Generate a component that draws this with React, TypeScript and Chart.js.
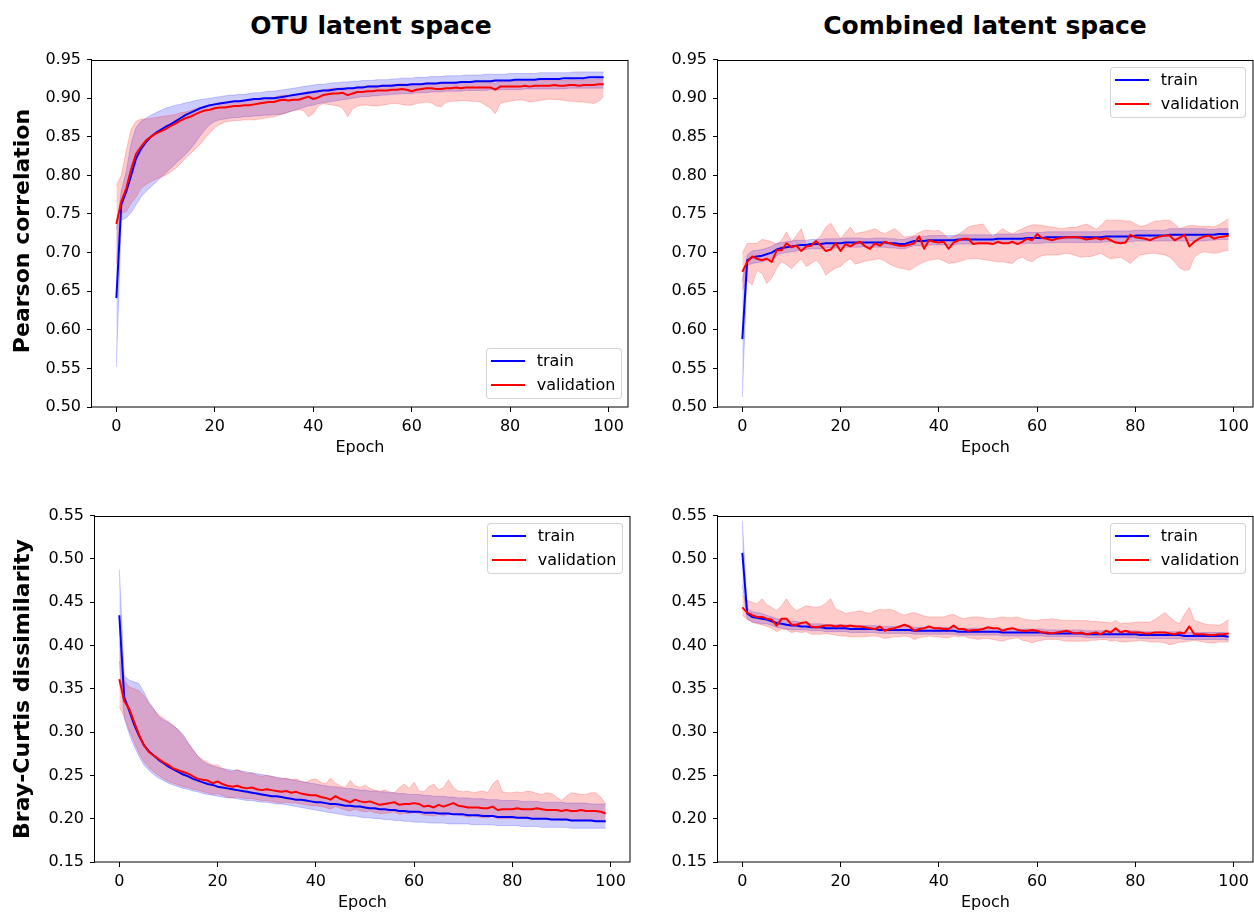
import React, { useEffect, useRef } from 'react';
import { Chart, registerables } from 'chart.js';

Chart.register(...registerables);

const FONT = "'DejaVu Sans', sans-serif";
Chart.defaults.font.family = FONT;
Chart.defaults.color = '#000';

// ---------------- data ----------------
const EPOCHS = Array.from({ length: 100 }, (_, i) => i);
const X_TICKS = [0, 20, 40, 60, 80, 100];
const PEARSON_TICKS = [0.5, 0.55, 0.6, 0.65, 0.7, 0.75, 0.8, 0.85, 0.9, 0.95];
const BRAY_TICKS = [0.15, 0.2, 0.25, 0.3, 0.35, 0.4, 0.45, 0.5, 0.55];

// OTU latent space - Pearson correlation
const A_TRAIN = [
  0.641, 0.762, 0.779, 0.800, 0.822, 0.834, 0.843, 0.850, 0.855, 0.859,
  0.863, 0.866, 0.870, 0.874, 0.878, 0.881, 0.884, 0.887, 0.889, 0.891,
  0.892, 0.893, 0.894, 0.895, 0.896, 0.896, 0.897, 0.898, 0.899, 0.899,
  0.900, 0.900, 0.900, 0.901, 0.902, 0.903, 0.904, 0.905, 0.906, 0.907,
  0.908, 0.909, 0.910, 0.910, 0.911, 0.912, 0.912, 0.913, 0.913, 0.914,
  0.914, 0.915, 0.915, 0.915, 0.916, 0.916, 0.916, 0.917, 0.917, 0.917,
  0.918, 0.918, 0.918, 0.919, 0.919, 0.919, 0.920, 0.920, 0.920, 0.920,
  0.921, 0.921, 0.921, 0.922, 0.922, 0.922, 0.922, 0.923, 0.923, 0.923,
  0.923, 0.924, 0.924, 0.924, 0.924, 0.924, 0.925, 0.925, 0.925, 0.925,
  0.925, 0.926, 0.926, 0.926, 0.926, 0.926, 0.927, 0.927, 0.927, 0.927,
];
const A_TRAIN_HI = [
  0.730, 0.780, 0.805, 0.842, 0.862, 0.870, 0.874, 0.878, 0.881, 0.884,
  0.887, 0.889, 0.891, 0.892, 0.894, 0.895, 0.897, 0.898, 0.899, 0.900,
  0.901, 0.902, 0.903, 0.904, 0.904, 0.905, 0.905, 0.906, 0.907, 0.907,
  0.908, 0.909, 0.909, 0.910, 0.911, 0.912, 0.913, 0.914, 0.915, 0.916,
  0.917, 0.918, 0.918, 0.919, 0.920, 0.920, 0.921, 0.921, 0.922, 0.922,
  0.923, 0.923, 0.923, 0.924, 0.924, 0.924, 0.925, 0.925, 0.926, 0.926,
  0.926, 0.927, 0.927, 0.927, 0.928, 0.928, 0.928, 0.929, 0.929, 0.929,
  0.929, 0.930, 0.930, 0.930, 0.930, 0.931, 0.931, 0.931, 0.931, 0.931,
  0.932, 0.932, 0.932, 0.932, 0.932, 0.932, 0.933, 0.933, 0.933, 0.933,
  0.933, 0.933, 0.933, 0.934, 0.934, 0.934, 0.934, 0.934, 0.934, 0.934,
];
const A_TRAIN_LO = [
  0.552, 0.742, 0.745, 0.752, 0.762, 0.772, 0.779, 0.785, 0.791, 0.797,
  0.803, 0.809, 0.815, 0.821, 0.827, 0.834, 0.842, 0.851, 0.859, 0.866,
  0.870, 0.872, 0.873, 0.874, 0.875, 0.875, 0.876, 0.876, 0.877, 0.877,
  0.878, 0.878, 0.879, 0.879, 0.880, 0.882, 0.884, 0.886, 0.888, 0.890,
  0.891, 0.893, 0.894, 0.895, 0.896, 0.897, 0.898, 0.899, 0.900, 0.901,
  0.902, 0.902, 0.903, 0.903, 0.904, 0.904, 0.905, 0.905, 0.906, 0.906,
  0.906, 0.907, 0.907, 0.907, 0.908, 0.908, 0.908, 0.909, 0.909, 0.909,
  0.909, 0.910, 0.910, 0.910, 0.910, 0.910, 0.911, 0.911, 0.911, 0.911,
  0.911, 0.911, 0.911, 0.912, 0.912, 0.912, 0.912, 0.912, 0.912, 0.912,
  0.912, 0.912, 0.913, 0.913, 0.913, 0.913, 0.913, 0.913, 0.913, 0.913,
];
const A_VAL = [
  0.737, 0.766, 0.783, 0.808, 0.828, 0.837, 0.845, 0.850, 0.854, 0.857,
  0.860, 0.864, 0.867, 0.871, 0.874, 0.876, 0.879, 0.882, 0.884, 0.885,
  0.887, 0.888, 0.888, 0.889, 0.890, 0.890, 0.891, 0.891, 0.892, 0.893,
  0.894, 0.895, 0.895, 0.897, 0.898, 0.897, 0.898, 0.898, 0.900, 0.902,
  0.899, 0.901, 0.904, 0.905, 0.906, 0.906, 0.907, 0.904, 0.906, 0.908,
  0.908, 0.909, 0.909, 0.910, 0.910, 0.910, 0.911, 0.911, 0.912, 0.911,
  0.909, 0.911, 0.912, 0.913, 0.913, 0.912, 0.912, 0.913, 0.913, 0.914,
  0.913, 0.914, 0.914, 0.914, 0.914, 0.914, 0.914, 0.911, 0.915, 0.915,
  0.915, 0.915, 0.915, 0.916, 0.915, 0.916, 0.916, 0.916, 0.916, 0.917,
  0.916, 0.916, 0.917, 0.917, 0.916, 0.917, 0.917, 0.917, 0.918, 0.918,
];
const A_VAL_HI = [
  0.787, 0.800, 0.832, 0.860, 0.870, 0.873, 0.873, 0.874, 0.875, 0.876,
  0.877, 0.878, 0.879, 0.881, 0.882, 0.884, 0.886, 0.888, 0.889, 0.890,
  0.893, 0.894, 0.894, 0.895, 0.896, 0.896, 0.897, 0.897, 0.898, 0.899,
  0.900, 0.901, 0.901, 0.903, 0.904, 0.904, 0.905, 0.905, 0.907, 0.909,
  0.907, 0.908, 0.911, 0.912, 0.913, 0.913, 0.914, 0.912, 0.913, 0.915,
  0.915, 0.916, 0.916, 0.917, 0.917, 0.917, 0.918, 0.918, 0.919, 0.918,
  0.917, 0.918, 0.919, 0.920, 0.920, 0.919, 0.919, 0.920, 0.920, 0.921,
  0.920, 0.921, 0.921, 0.921, 0.921, 0.921, 0.921, 0.919, 0.922, 0.922,
  0.922, 0.922, 0.922, 0.923, 0.922, 0.923, 0.923, 0.923, 0.923, 0.924,
  0.923, 0.923, 0.924, 0.924, 0.923, 0.924, 0.924, 0.924, 0.925, 0.925,
];
const A_VAL_LO = [
  0.686, 0.751, 0.753, 0.764, 0.772, 0.783, 0.788, 0.792, 0.795, 0.798,
  0.800, 0.804, 0.809, 0.815, 0.822, 0.828, 0.834, 0.840, 0.848, 0.855,
  0.862, 0.866, 0.869, 0.870, 0.871, 0.871, 0.872, 0.872, 0.872, 0.873,
  0.874, 0.875, 0.876, 0.878, 0.880, 0.882, 0.884, 0.885, 0.884, 0.876,
  0.880, 0.890, 0.893, 0.892, 0.891, 0.890, 0.887, 0.876, 0.886, 0.890,
  0.891, 0.891, 0.890, 0.890, 0.891, 0.892, 0.893, 0.893, 0.892, 0.891,
  0.891, 0.893, 0.894, 0.895, 0.894, 0.890, 0.889, 0.895, 0.896, 0.896,
  0.897, 0.897, 0.896, 0.896, 0.895, 0.891, 0.887, 0.880, 0.893, 0.895,
  0.896, 0.897, 0.898, 0.897, 0.895, 0.896, 0.897, 0.898, 0.899, 0.898,
  0.898, 0.897, 0.896, 0.896, 0.895, 0.895, 0.894, 0.893, 0.896, 0.902,
];

// Combined latent space - Pearson correlation
const B_TRAIN = [
  0.588, 0.690, 0.694, 0.695, 0.696, 0.698, 0.700, 0.704, 0.706, 0.707,
  0.708, 0.709, 0.710, 0.710, 0.711, 0.711, 0.711, 0.712, 0.712, 0.712,
  0.712, 0.713, 0.713, 0.713, 0.713, 0.713, 0.713, 0.713, 0.713, 0.713,
  0.712, 0.712, 0.711, 0.711, 0.713, 0.715, 0.715, 0.715, 0.716, 0.716,
  0.716, 0.716, 0.716, 0.716, 0.717, 0.717, 0.717, 0.717, 0.717, 0.717,
  0.717, 0.717, 0.718, 0.718, 0.718, 0.718, 0.718, 0.718, 0.719, 0.719,
  0.719, 0.719, 0.720, 0.720, 0.720, 0.720, 0.720, 0.720, 0.720, 0.720,
  0.720, 0.720, 0.720, 0.720, 0.721, 0.721, 0.721, 0.721, 0.721, 0.721,
  0.722, 0.722, 0.722, 0.722, 0.722, 0.722, 0.722, 0.723, 0.723, 0.723,
  0.723, 0.723, 0.723, 0.723, 0.723, 0.723, 0.723, 0.724, 0.724, 0.724,
];
const B_TRAIN_SD = [
  0.075, 0.007, 0.008, 0.008, 0.008, 0.008, 0.008, 0.008, 0.007, 0.007,
  0.007, 0.007, 0.006, 0.006, 0.006, 0.006, 0.006, 0.006, 0.006, 0.006,
  0.006, 0.006, 0.006, 0.006, 0.006, 0.005, 0.005, 0.006, 0.006, 0.006,
  0.006, 0.006, 0.006, 0.006, 0.006, 0.006, 0.006, 0.006, 0.006, 0.006,
  0.006, 0.006, 0.006, 0.006, 0.006, 0.006, 0.006, 0.006, 0.006, 0.006,
  0.006, 0.006, 0.006, 0.006, 0.006, 0.006, 0.006, 0.007, 0.007, 0.007,
  0.007, 0.007, 0.007, 0.007, 0.007, 0.007, 0.007, 0.007, 0.007, 0.007,
  0.007, 0.007, 0.007, 0.007, 0.007, 0.007, 0.007, 0.007, 0.007, 0.007,
  0.007, 0.007, 0.007, 0.007, 0.007, 0.007, 0.007, 0.008, 0.008, 0.008,
  0.008, 0.008, 0.008, 0.008, 0.008, 0.007, 0.007, 0.007, 0.007, 0.007,
];
const B_VAL = [
  0.675, 0.688, 0.695, 0.692, 0.690, 0.692, 0.688, 0.703, 0.703, 0.712,
  0.707, 0.709, 0.702, 0.708, 0.709, 0.715, 0.709, 0.702, 0.704, 0.712,
  0.702, 0.711, 0.708, 0.712, 0.714, 0.708, 0.705, 0.712, 0.709, 0.714,
  0.712, 0.710, 0.709, 0.709, 0.710, 0.712, 0.721, 0.705, 0.716, 0.714,
  0.713, 0.714, 0.705, 0.713, 0.716, 0.718, 0.718, 0.711, 0.712, 0.712,
  0.712, 0.711, 0.714, 0.712, 0.712, 0.714, 0.711, 0.714, 0.718, 0.716,
  0.724, 0.719, 0.718, 0.716, 0.718, 0.719, 0.720, 0.720, 0.720, 0.719,
  0.717, 0.718, 0.719, 0.717, 0.719, 0.716, 0.713, 0.712, 0.713, 0.723,
  0.720, 0.719, 0.718, 0.716, 0.719, 0.721, 0.722, 0.722, 0.716, 0.719,
  0.723, 0.708, 0.714, 0.718, 0.721, 0.722, 0.718, 0.720, 0.721, 0.722,
];
const B_VAL_HI = [
  0.699, 0.712, 0.712, 0.712, 0.717, 0.716, 0.714, 0.711, 0.716, 0.727,
  0.714, 0.722, 0.731, 0.710, 0.712, 0.716, 0.722, 0.733, 0.738, 0.728,
  0.718, 0.726, 0.733, 0.724, 0.726, 0.727, 0.729, 0.731, 0.727, 0.724,
  0.728, 0.731, 0.726, 0.720, 0.721, 0.722, 0.726, 0.729, 0.729, 0.728,
  0.729, 0.724, 0.718, 0.721, 0.724, 0.728, 0.733, 0.735, 0.736, 0.737,
  0.728, 0.720, 0.726, 0.731, 0.727, 0.724, 0.728, 0.731, 0.734, 0.736,
  0.736, 0.735, 0.734, 0.733, 0.732, 0.731, 0.732, 0.733, 0.733, 0.735,
  0.737, 0.734, 0.730, 0.735, 0.742, 0.742, 0.742, 0.742, 0.741, 0.741,
  0.737, 0.734, 0.735, 0.738, 0.741, 0.741, 0.742, 0.742, 0.737, 0.731,
  0.733, 0.735, 0.735, 0.734, 0.734, 0.734, 0.733, 0.736, 0.740, 0.744,
];
const B_VAL_LO = [
  0.652, 0.664, 0.658, 0.677, 0.673, 0.660, 0.667, 0.680, 0.688, 0.684,
  0.679, 0.686, 0.692, 0.682, 0.686, 0.690, 0.684, 0.671, 0.676, 0.680,
  0.682, 0.688, 0.692, 0.685, 0.687, 0.689, 0.690, 0.691, 0.692, 0.689,
  0.685, 0.682, 0.680, 0.679, 0.677, 0.681, 0.685, 0.688, 0.690, 0.691,
  0.692, 0.689, 0.686, 0.687, 0.688, 0.690, 0.692, 0.692, 0.692, 0.691,
  0.690, 0.689, 0.688, 0.688, 0.687, 0.686, 0.692, 0.694, 0.690, 0.688,
  0.693, 0.696, 0.697, 0.697, 0.697, 0.698, 0.699, 0.698, 0.696, 0.694,
  0.695, 0.695, 0.697, 0.699, 0.695, 0.692, 0.693, 0.694, 0.690, 0.686,
  0.692, 0.697, 0.698, 0.699, 0.699, 0.698, 0.697, 0.694, 0.688, 0.680,
  0.677, 0.678, 0.694, 0.699, 0.701, 0.700, 0.699, 0.700, 0.702, 0.703,
];

// OTU latent space - Bray-Curtis dissimilarity
const C_TRAIN = [
  0.435, 0.340, 0.325, 0.309, 0.296, 0.285, 0.278, 0.273, 0.268, 0.264,
  0.260, 0.257, 0.254, 0.251, 0.249, 0.246, 0.244, 0.242, 0.240, 0.239,
  0.237, 0.236, 0.235, 0.234, 0.233, 0.232, 0.231, 0.230, 0.229, 0.228,
  0.227, 0.226, 0.226, 0.225, 0.224, 0.223, 0.222, 0.222, 0.221, 0.220,
  0.219, 0.219, 0.218, 0.217, 0.217, 0.216, 0.215, 0.215, 0.214, 0.214,
  0.213, 0.212, 0.212, 0.211, 0.211, 0.210, 0.210, 0.209, 0.209, 0.208,
  0.208, 0.208, 0.207, 0.207, 0.207, 0.206, 0.206, 0.206, 0.205, 0.205,
  0.205, 0.204, 0.204, 0.204, 0.203, 0.203, 0.203, 0.202, 0.202, 0.202,
  0.202, 0.201, 0.201, 0.201, 0.200, 0.200, 0.200, 0.200, 0.199, 0.199,
  0.199, 0.199, 0.198, 0.198, 0.198, 0.198, 0.198, 0.197, 0.197, 0.197,
];
const C_TRAIN_HI = [
  0.488, 0.365, 0.360, 0.358, 0.356, 0.346, 0.335, 0.327, 0.318, 0.314,
  0.311, 0.307, 0.303, 0.297, 0.288, 0.280, 0.272, 0.266, 0.263, 0.261,
  0.259, 0.258, 0.257, 0.256, 0.256, 0.255, 0.254, 0.253, 0.252, 0.251,
  0.250, 0.249, 0.248, 0.247, 0.246, 0.245, 0.244, 0.243, 0.242, 0.241,
  0.240, 0.239, 0.238, 0.237, 0.237, 0.236, 0.235, 0.235, 0.234, 0.233,
  0.233, 0.232, 0.232, 0.231, 0.231, 0.230, 0.230, 0.229, 0.229, 0.228,
  0.228, 0.228, 0.227, 0.227, 0.226, 0.226, 0.226, 0.225, 0.225, 0.224,
  0.224, 0.224, 0.223, 0.223, 0.223, 0.222, 0.222, 0.222, 0.221, 0.221,
  0.221, 0.221, 0.220, 0.220, 0.220, 0.220, 0.219, 0.219, 0.219, 0.219,
  0.219, 0.218, 0.218, 0.218, 0.218, 0.218, 0.217, 0.217, 0.217, 0.217,
];
const C_TRAIN_LO = [
  0.382, 0.316, 0.298, 0.284, 0.272, 0.262, 0.256, 0.251, 0.247, 0.244,
  0.241, 0.239, 0.237, 0.235, 0.234, 0.232, 0.231, 0.229, 0.228, 0.227,
  0.226, 0.225, 0.224, 0.224, 0.223, 0.222, 0.221, 0.221, 0.220, 0.219,
  0.219, 0.218, 0.217, 0.217, 0.216, 0.215, 0.214, 0.213, 0.212, 0.211,
  0.210, 0.209, 0.208, 0.207, 0.206, 0.205, 0.204, 0.203, 0.203, 0.202,
  0.201, 0.201, 0.200, 0.200, 0.199, 0.199, 0.198, 0.198, 0.197, 0.197,
  0.196, 0.196, 0.196, 0.195, 0.195, 0.195, 0.195, 0.194, 0.194, 0.194,
  0.194, 0.194, 0.193, 0.193, 0.193, 0.193, 0.193, 0.192, 0.192, 0.192,
  0.192, 0.192, 0.191, 0.191, 0.191, 0.191, 0.190, 0.190, 0.190, 0.190,
  0.190, 0.190, 0.189, 0.189, 0.189, 0.189, 0.189, 0.189, 0.189, 0.189,
];
const C_VAL = [
  0.361, 0.336, 0.327, 0.312, 0.297, 0.285, 0.277, 0.273, 0.269, 0.265,
  0.262, 0.258, 0.256, 0.254, 0.252, 0.249, 0.246, 0.245, 0.244, 0.241,
  0.243, 0.240, 0.238, 0.237, 0.238, 0.236, 0.235, 0.236, 0.234, 0.233,
  0.234, 0.233, 0.232, 0.231, 0.232, 0.230, 0.231, 0.229, 0.228, 0.227,
  0.227, 0.225, 0.224, 0.222, 0.226, 0.223, 0.221, 0.219, 0.222, 0.220,
  0.219, 0.220, 0.218, 0.216, 0.217, 0.218, 0.219, 0.216, 0.217, 0.217,
  0.218, 0.217, 0.214, 0.215, 0.213, 0.216, 0.214, 0.216, 0.218, 0.215,
  0.214, 0.213, 0.213, 0.213, 0.212, 0.212, 0.214, 0.210, 0.211, 0.211,
  0.211, 0.212, 0.211, 0.211, 0.211, 0.212, 0.211, 0.210, 0.210, 0.210,
  0.209, 0.210, 0.209, 0.209, 0.210, 0.209, 0.209, 0.209, 0.208, 0.206,
];
const C_VAL_HI = [
  0.405, 0.360, 0.352, 0.350, 0.348, 0.342, 0.333, 0.326, 0.320, 0.316,
  0.312, 0.308, 0.302, 0.295, 0.287, 0.279, 0.272, 0.268, 0.265, 0.262,
  0.262, 0.258, 0.255, 0.254, 0.257, 0.254, 0.252, 0.253, 0.250, 0.249,
  0.250, 0.249, 0.247, 0.246, 0.247, 0.245, 0.246, 0.243, 0.242, 0.245,
  0.246, 0.242, 0.240, 0.247, 0.241, 0.238, 0.236, 0.244, 0.238, 0.236,
  0.239, 0.235, 0.233, 0.232, 0.233, 0.231, 0.230, 0.236, 0.240, 0.235,
  0.242, 0.232, 0.231, 0.237, 0.240, 0.233, 0.236, 0.245, 0.236, 0.232,
  0.231, 0.232, 0.230, 0.231, 0.232, 0.230, 0.240, 0.245, 0.231, 0.230,
  0.230, 0.231, 0.230, 0.232, 0.231, 0.229, 0.228, 0.230, 0.229, 0.225,
  0.221, 0.226, 0.230, 0.229, 0.228, 0.228, 0.230, 0.230, 0.225, 0.217,
];
const C_VAL_LO = [
  0.329, 0.318, 0.302, 0.289, 0.276, 0.266, 0.259, 0.254, 0.250, 0.246,
  0.243, 0.241, 0.239, 0.237, 0.236, 0.234, 0.233, 0.231, 0.230, 0.228,
  0.229, 0.227, 0.225, 0.224, 0.225, 0.224, 0.223, 0.223, 0.222, 0.221,
  0.221, 0.220, 0.219, 0.218, 0.219, 0.218, 0.218, 0.217, 0.216, 0.215,
  0.215, 0.214, 0.213, 0.211, 0.214, 0.212, 0.210, 0.209, 0.211, 0.209,
  0.208, 0.209, 0.207, 0.206, 0.206, 0.207, 0.208, 0.205, 0.206, 0.206,
  0.207, 0.206, 0.204, 0.204, 0.203, 0.205, 0.203, 0.205, 0.206, 0.204,
  0.203, 0.202, 0.203, 0.202, 0.201, 0.201, 0.203, 0.200, 0.200, 0.200,
  0.200, 0.201, 0.200, 0.200, 0.200, 0.201, 0.200, 0.199, 0.199, 0.199,
  0.198, 0.199, 0.198, 0.198, 0.199, 0.198, 0.198, 0.198, 0.197, 0.196,
];

// Combined latent space - Bray-Curtis dissimilarity
const D_TRAIN = [
  0.507, 0.437, 0.433, 0.432, 0.431, 0.430, 0.428, 0.426, 0.425, 0.424,
  0.423, 0.423, 0.422, 0.422, 0.421, 0.421, 0.421, 0.420, 0.420, 0.420,
  0.420, 0.420, 0.419, 0.419, 0.419, 0.419, 0.419, 0.419, 0.418, 0.418,
  0.418, 0.418, 0.418, 0.418, 0.418, 0.417, 0.417, 0.417, 0.417, 0.417,
  0.417, 0.417, 0.417, 0.417, 0.416, 0.416, 0.416, 0.416, 0.416, 0.416,
  0.416, 0.416, 0.416, 0.415, 0.415, 0.415, 0.415, 0.415, 0.415, 0.415,
  0.415, 0.415, 0.414, 0.414, 0.414, 0.414, 0.414, 0.414, 0.414, 0.414,
  0.413, 0.413, 0.413, 0.413, 0.413, 0.413, 0.413, 0.413, 0.413, 0.413,
  0.413, 0.412, 0.412, 0.412, 0.412, 0.412, 0.412, 0.412, 0.412, 0.412,
  0.411, 0.411, 0.411, 0.411, 0.411, 0.411, 0.411, 0.411, 0.411, 0.410,
];
const D_TRAIN_SD = [
  0.037, 0.006, 0.006, 0.006, 0.006, 0.005, 0.005, 0.005, 0.005, 0.005,
  0.005, 0.005, 0.004, 0.004, 0.004, 0.004, 0.004, 0.004, 0.004, 0.004,
  0.004, 0.004, 0.004, 0.004, 0.004, 0.004, 0.004, 0.004, 0.004, 0.004,
  0.004, 0.004, 0.004, 0.004, 0.004, 0.004, 0.004, 0.004, 0.004, 0.004,
  0.004, 0.004, 0.004, 0.004, 0.004, 0.004, 0.004, 0.004, 0.004, 0.004,
  0.004, 0.004, 0.004, 0.004, 0.004, 0.004, 0.004, 0.004, 0.004, 0.004,
  0.004, 0.004, 0.004, 0.004, 0.004, 0.004, 0.004, 0.004, 0.004, 0.004,
  0.004, 0.004, 0.004, 0.004, 0.004, 0.004, 0.004, 0.004, 0.004, 0.004,
  0.004, 0.004, 0.004, 0.004, 0.004, 0.004, 0.004, 0.004, 0.004, 0.004,
  0.004, 0.004, 0.004, 0.004, 0.004, 0.004, 0.004, 0.004, 0.004, 0.004,
];
const D_VAL = [
  0.444, 0.438, 0.435, 0.433, 0.433, 0.431, 0.430, 0.423, 0.431, 0.431,
  0.424, 0.424, 0.426, 0.427, 0.422, 0.421, 0.422, 0.423, 0.423, 0.422,
  0.423, 0.422, 0.423, 0.422, 0.422, 0.421, 0.420, 0.419, 0.422, 0.417,
  0.419, 0.420, 0.422, 0.424, 0.422, 0.417, 0.419, 0.420, 0.422, 0.420,
  0.420, 0.419, 0.419, 0.423, 0.419, 0.419, 0.417, 0.418, 0.418, 0.419,
  0.421, 0.420, 0.420, 0.417, 0.419, 0.420, 0.418, 0.417, 0.417, 0.418,
  0.417, 0.415, 0.415, 0.414, 0.415, 0.416, 0.417, 0.415, 0.414, 0.415,
  0.413, 0.414, 0.415, 0.413, 0.417, 0.415, 0.420, 0.415, 0.417, 0.415,
  0.415, 0.415, 0.414, 0.414, 0.415, 0.415, 0.415, 0.414, 0.413, 0.415,
  0.414, 0.422, 0.413, 0.413, 0.413, 0.412, 0.412, 0.413, 0.413, 0.414,
];
const D_VAL_HI = [
  0.458, 0.452, 0.450, 0.448, 0.454, 0.447, 0.444, 0.440, 0.446, 0.454,
  0.445, 0.440, 0.443, 0.446, 0.445, 0.444, 0.445, 0.449, 0.454, 0.442,
  0.440, 0.437, 0.438, 0.439, 0.440, 0.438, 0.437, 0.440, 0.442, 0.441,
  0.442, 0.440, 0.437, 0.435, 0.437, 0.438, 0.436, 0.434, 0.433, 0.433,
  0.433, 0.433, 0.435, 0.436, 0.433, 0.431, 0.432, 0.433, 0.433, 0.432,
  0.431, 0.431, 0.432, 0.433, 0.432, 0.432, 0.433, 0.431, 0.430, 0.429,
  0.429, 0.430, 0.430, 0.431, 0.430, 0.429, 0.429, 0.429, 0.429, 0.429,
  0.429, 0.428, 0.428, 0.427, 0.427, 0.426, 0.429, 0.425, 0.426, 0.426,
  0.427, 0.427, 0.427, 0.427, 0.430, 0.434, 0.438, 0.433, 0.428, 0.425,
  0.436, 0.444, 0.429, 0.427, 0.425, 0.424, 0.424, 0.423, 0.426, 0.430,
];
const D_VAL_LO = [
  0.435, 0.430, 0.427, 0.425, 0.424, 0.422, 0.420, 0.416, 0.419, 0.418,
  0.415, 0.416, 0.415, 0.416, 0.413, 0.413, 0.413, 0.414, 0.413, 0.412,
  0.411, 0.411, 0.410, 0.410, 0.410, 0.410, 0.411, 0.411, 0.410, 0.408,
  0.409, 0.410, 0.410, 0.411, 0.410, 0.407, 0.409, 0.410, 0.411, 0.410,
  0.410, 0.409, 0.409, 0.411, 0.410, 0.411, 0.409, 0.408, 0.407, 0.408,
  0.408, 0.407, 0.406, 0.405, 0.407, 0.408, 0.409, 0.406, 0.405, 0.403,
  0.405, 0.406, 0.407, 0.407, 0.407, 0.406, 0.405, 0.405, 0.405, 0.405,
  0.405, 0.406, 0.406, 0.407, 0.407, 0.405, 0.406, 0.404, 0.404, 0.405,
  0.405, 0.406, 0.405, 0.404, 0.404, 0.404, 0.403, 0.401, 0.402, 0.404,
  0.404, 0.405, 0.406, 0.405, 0.404, 0.403, 0.403, 0.404, 0.404, 0.404,
];

const COLUMN_TITLES = ['OTU latent space', 'Combined latent space'];
const ROW_LABELS = ['Pearson correlation', 'Bray-Curtis dissimilarity'];
const LEGEND_LABELS = ['train', 'validation'];

// ---------------- layout & style ----------------
const BLUE = '#0000ff';
const RED = '#ff0000';
const BLUE_BAND = 'rgba(0,0,255,0.2)';
const RED_BAND = 'rgba(255,0,0,0.2)';
const AXIS_W = 80;
const PAD_T = 15;
const PAD_R = 15;
const AXIS_H = 50;

const minus = (a: number[], b: number[]) => a.map((v, i) => v - b[i]);
const plus = (a: number[], b: number[]) => a.map((v, i) => v + b[i]);

const PANELS = [
  {
    id: 'A', area: { l: 92, t: 59, r: 628, b: 407 }, yMin: 0.5, yMax: 0.95, yTicks: PEARSON_TICKS,
    train: A_TRAIN, trainLo: A_TRAIN_LO, trainHi: A_TRAIN_HI, val: A_VAL, valLo: A_VAL_LO, valHi: A_VAL_HI,
    legend: { left: 486, top: 348 },
  },
  {
    id: 'B', area: { l: 718, t: 59, r: 1253, b: 407 }, yMin: 0.5, yMax: 0.95, yTicks: PEARSON_TICKS,
    train: B_TRAIN, trainLo: minus(B_TRAIN, B_TRAIN_SD), trainHi: plus(B_TRAIN, B_TRAIN_SD), val: B_VAL, valLo: B_VAL_LO, valHi: B_VAL_HI,
    legend: { left: 1110, top: 67 },
  },
  {
    id: 'C', area: { l: 95, t: 515, r: 630, b: 862 }, yMin: 0.15, yMax: 0.55, yTicks: BRAY_TICKS,
    train: C_TRAIN, trainLo: C_TRAIN_LO, trainHi: C_TRAIN_HI, val: C_VAL, valLo: C_VAL_LO, valHi: C_VAL_HI,
    legend: { left: 487, top: 523 },
  },
  {
    id: 'D', area: { l: 718, t: 515, r: 1253, b: 862 }, yMin: 0.15, yMax: 0.55, yTicks: BRAY_TICKS,
    train: D_TRAIN, trainLo: minus(D_TRAIN, D_TRAIN_SD), trainHi: plus(D_TRAIN, D_TRAIN_SD), val: D_VAL, valLo: D_VAL_LO, valHi: D_VAL_HI,
    legend: { left: 1110, top: 523 },
  },
];

const framePlugin = {
  id: 'frame',
  afterDraw(chart: any) {
    const { ctx, chartArea: a } = chart;
    ctx.save();
    ctx.strokeStyle = '#000';
    ctx.lineWidth = 1;
    ctx.strokeRect(Math.round(a.left) - 0.5, Math.round(a.top) + 0.5, Math.round(a.right - a.left) + 0.5, Math.round(a.bottom - a.top) - 0.5);
    ctx.restore();
  },
};

const pts = (arr: number[]) => arr.map((y, i) => ({ x: EPOCHS[i], y }));

function Panel({ spec }: { spec: any }) {
  const ref = useRef<HTMLCanvasElement>(null);
  const { area } = spec;
  const w = AXIS_W + (area.r - area.l) + PAD_R;
  const h = PAD_T + (area.b - area.t) + AXIS_H;
  useEffect(() => {
    const bandEdge = (c: string) => ({ borderColor: c, borderWidth: 1, pointRadius: 0 });
    const chart = new Chart(ref.current as HTMLCanvasElement, {
      type: 'line',
      data: {
        datasets: [
          { data: pts(spec.trainLo), ...bandEdge(BLUE_BAND), fill: false, order: 5 },
          { data: pts(spec.trainHi), ...bandEdge(BLUE_BAND), backgroundColor: BLUE_BAND, fill: '-1', order: 4 },
          { data: pts(spec.valLo), ...bandEdge(RED_BAND), fill: false, order: 3 },
          { data: pts(spec.valHi), ...bandEdge(RED_BAND), backgroundColor: RED_BAND, fill: '-1', order: 2 },
          { data: pts(spec.train), borderColor: BLUE, borderWidth: 2, pointRadius: 0, fill: false, order: 1, borderJoinStyle: 'round' },
          { data: pts(spec.val), borderColor: RED, borderWidth: 2, pointRadius: 0, fill: false, order: 0, borderJoinStyle: 'round' },
        ] as any,
      },
      options: {
        animation: false,
        responsive: false,
        maintainAspectRatio: false,
        devicePixelRatio: 1,
        events: [],
        layout: { padding: { top: PAD_T, right: PAD_R, left: 0, bottom: 0 } },
        plugins: { legend: { display: false }, tooltip: { enabled: false }, title: { display: false } },
        elements: { line: { tension: 0 } },
        scales: {
          x: {
            type: 'linear',
            min: -4.95,
            max: 103.95,
            afterBuildTicks: (s: any) => { s.ticks = X_TICKS.map((value) => ({ value })); },
            afterFit: (s: any) => { s.height = AXIS_H; },
            grid: { display: true, drawOnChartArea: false, drawTicks: true, tickLength: 5, color: '#000', lineWidth: 1 },
            border: { display: false },
            ticks: { color: '#000', font: { family: FONT, size: 16 }, padding: 5, autoSkip: false, maxRotation: 0, callback: (v: any) => String(v) },
            title: { display: true, text: 'Epoch', color: '#000', font: { family: FONT, size: 16 }, padding: { top: 0, bottom: 0 } },
          },
          y: {
            type: 'linear',
            min: spec.yMin,
            max: spec.yMax,
            afterBuildTicks: (s: any) => { s.ticks = spec.yTicks.map((value: number) => ({ value })); },
            afterFit: (s: any) => { s.width = AXIS_W; },
            grid: { display: true, drawOnChartArea: false, drawTicks: true, tickLength: 5, color: '#000', lineWidth: 1 },
            border: { display: false },
            ticks: { color: '#000', font: { family: FONT, size: 16 }, padding: 6, autoSkip: false, callback: (v: any) => Number(v).toFixed(2) },
          },
        },
      } as any,
      plugins: [framePlugin],
    });
    return () => chart.destroy();
  }, []);
  return (
    <canvas
      ref={ref}
      width={w}
      height={h}
      style={{ position: 'absolute', left: area.l - AXIS_W, top: area.t - PAD_T, width: w, height: h }}
    />
  );
}

function Legend({ left, top }: { left: number; top: number }) {
  const colors = [BLUE, RED];
  const rows = [12.5, 36.5];
  return (
    <div
      style={{
        position: 'absolute', left, top, width: 136, height: 51, boxSizing: 'border-box',
        border: '1px solid rgba(204,204,204,0.85)', borderRadius: 4, background: 'rgba(255,255,255,0.8)',
        fontFamily: FONT, fontSize: 16, color: '#000',
      }}
    >
      {LEGEND_LABELS.map((label, i) => (
        <React.Fragment key={label}>
          <div style={{ position: 'absolute', left: 4, top: rows[i] - 2, width: 34, height: 2, background: colors[i] }} />
          <div style={{ position: 'absolute', left: 49.7, top: rows[i] - 9, lineHeight: '16px', whiteSpace: 'nowrap' }}>{label}</div>
        </React.Fragment>
      ))}
    </div>
  );
}

export default function App() {
  const titleSize = 25;
  const labelSize = 22;
  return (
    <div style={{ position: 'absolute', left: 0, top: 0, width: 1254, height: 912, overflow: 'hidden', background: '#fff', fontFamily: FONT }}>
      {PANELS.map((p) => <Panel key={p.id} spec={p} />)}
      {PANELS.map((p) => <Legend key={'lg' + p.id} left={p.legend.left} top={p.legend.top} />)}
      {COLUMN_TITLES.map((t, i) => (
        <div
          key={t}
          style={{
            position: 'absolute', left: [371, 985][i], top: 34 - 0.846 * titleSize, transform: 'translateX(-50%)',
            fontSize: titleSize, lineHeight: `${titleSize}px`, fontWeight: 'bold', whiteSpace: 'nowrap', color: '#000',
          }}
        >
          {t}
        </div>
      ))}
      {ROW_LABELS.map((t, i) => (
        <div
          key={t}
          style={{
            position: 'absolute', left: 22, top: [231, 689][i], transform: 'translate(-50%, -50%) rotate(-90deg)',
            fontSize: labelSize, lineHeight: `${labelSize}px`, fontWeight: 'bold', whiteSpace: 'nowrap', color: '#000',
          }}
        >
          {t}
        </div>
      ))}
    </div>
  );
}
